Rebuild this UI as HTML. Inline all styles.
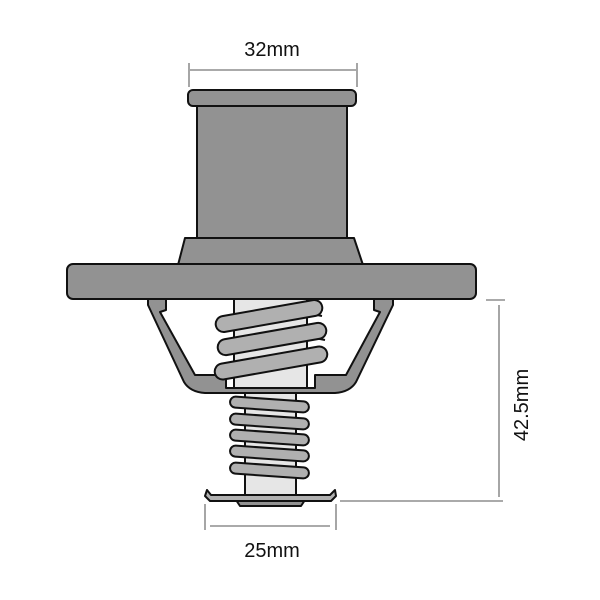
<!DOCTYPE html>
<html><head><style>body{margin:0;background:#fff}svg{display:block}text{font-family:"Liberation Sans",Arial,sans-serif;fill:#111}</style></head>
<body>
<svg width="600" height="600" viewBox="0 0 600 600">
<g stroke="#777" stroke-width="1.3" fill="none">
<line x1="189" y1="63" x2="189" y2="87"/><line x1="357" y1="63" x2="357" y2="87"/><line x1="190" y1="70" x2="356" y2="70"/>
<line x1="486" y1="300" x2="505" y2="300"/><line x1="499" y1="305" x2="499" y2="497"/><line x1="340" y1="501" x2="503" y2="501"/>
<line x1="205" y1="504" x2="205" y2="530"/><line x1="336" y1="504" x2="336" y2="530"/><line x1="210" y1="526" x2="330" y2="526"/>
</g>
<text x="272" y="56" font-size="20" text-anchor="middle">32mm</text>
<text x="272" y="557" font-size="20" text-anchor="middle">25mm</text>
<text transform="translate(528,405) rotate(-90)" font-size="20" text-anchor="middle">42.5mm</text>
<g stroke="#111" stroke-width="2" fill="#929292" stroke-linejoin="round">
<!-- lower stem -->
<rect x="245" y="385" width="51" height="110" fill="#e6e6e6"/>
<!-- upper stem -->
<rect x="234" y="296" width="73" height="92" fill="#e6e6e6"/>
<!-- bracket -->
<path d="M148 298 L166 298 L166 310 L160 312 L195 375 L226 375 L226 388 L315 388 L315 375 L346 375 L380 312 L374 310 L374 298 L393 298 L393 305 L356 382 Q350 392 335 393 L205 393 Q190 392 184 382 L148 305 Z"/>
<!-- upper coils -->
<g stroke-width="2" fill="#b0b0b0">
<path d="M224 330 L302 312 L322 316" fill="none"/>
<path d="M224 354 L305 336 L325 340" fill="none"/>
<rect x="215" y="308" width="108" height="16" rx="8" transform="rotate(-10 269 316)"/>
<rect x="217" y="331" width="110" height="16" rx="8" transform="rotate(-10 272 339)"/>
<rect x="214" y="355" width="114" height="16" rx="8" transform="rotate(-10 271 363)"/>
</g>
<!-- lower coils -->
<g fill="#b0b0b0">
<rect x="230" y="399" width="79" height="11" rx="5.5" transform="rotate(4 269 404)"/>
<rect x="230" y="416" width="79" height="11" rx="5.5" transform="rotate(4 269 421)"/>
<rect x="230" y="432" width="79" height="11" rx="5.5" transform="rotate(4 269 437)"/>
<rect x="230" y="448" width="79" height="11" rx="5.5" transform="rotate(4 269 453)"/>
<rect x="230" y="465" width="79" height="11" rx="5.5" transform="rotate(4 269 470)"/>
</g>
<!-- plate -->
<path d="M236 500 L305 500 L301 506 L240 506 Z"/>
<path d="M207 490 L211 495 L330 495 L335 490 L336 496 L331 501 L210 501 L205 496 Z" fill="#b0b0b0"/>
<!-- top -->
<path d="M185 238 L354 238 L363 265 L178 265 Z"/>
<rect x="197" y="104" width="150" height="134"/>
<rect x="188" y="90" width="168" height="16" rx="5"/>
<rect x="67" y="264" width="409" height="35" rx="6"/>
</g>
</svg>
</body></html>
